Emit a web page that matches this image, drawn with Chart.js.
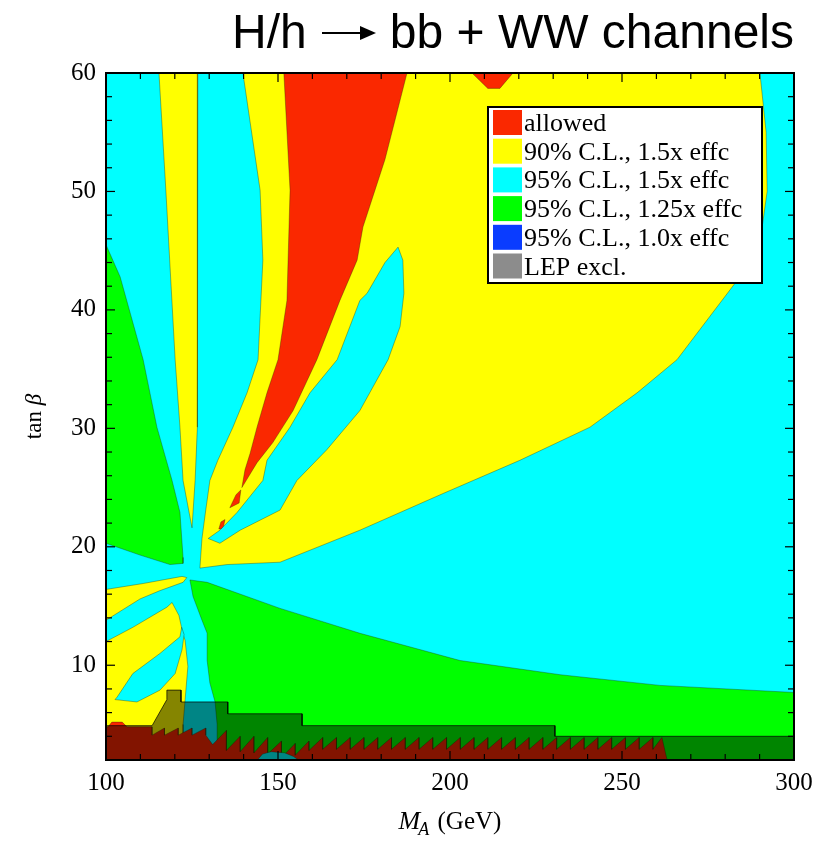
<!DOCTYPE html>
<html>
<head>
<meta charset="utf-8">
<script src="https://cdn.jsdelivr.net/npm/chart.js@4.4.1/dist/chart.umd.min.js"></script>
<style>
body { margin: 0; background: #fff; }
canvas { display: block; }
</style>
</head>
<body>
<canvas id="chart" width="822" height="859"></canvas>
<script>
// axis ticks
const xTicks = [100, 150, 200, 250, 300]
const xMinor = [110, 120, 130, 140, 160, 170, 180, 190, 210, 220, 230, 240, 260, 270, 280, 290]
const yTicks = [10, 20, 30, 40, 50, 60]
const yMinor = [4, 6, 8, 12, 14, 16, 18, 22, 24, 26, 28, 32, 34, 36, 38, 42, 44, 46, 48, 52, 54, 56, 58]

// legend
const legendLabels = ['allowed', '90% C.L., 1.5x effc', '95% C.L., 1.5x effc', '95% C.L., 1.25x effc', '95% C.L., 1.0x effc', 'LEP excl.']
const legendColors = ['#fa2800', '#ffff00', '#00ffff', '#00ff00', '#0a3cff', '#8c8c8c']

// contour outlines, [M_A, tan beta]
const base = [[100, 2], [300, 2], [300, 60], [100, 60]]
const yellowMain = [[139.8, 60], [290.1, 60], [291.9, 55], [292.2, 50], [290.5, 46.5], [284.3, 42.8], [266.0, 35.8], [254.4, 33.0], [240.7, 30.1], [220.3, 27.3], [198.0, 24.5], [173.8, 21.4], [150.6, 18.7], [135.2, 18.5], [127.3, 18.2], [127.9, 20.7], [129.0, 23.1], [130.2, 25.6], [132.5, 27.3], [136.9, 30.1], [141.0, 33.0], [144.2, 35.8], [145.6, 44.2], [144.8, 50.1]]
const redMain = [[151.7, 60], [187.5, 60], [181.1, 52.7], [174.7, 47.0], [173.0, 44.2], [168.0, 40.8], [161.3, 35.8], [154.4, 31.5], [148.5, 28.8], [143.9, 27.1], [139.5, 25.0], [140.4, 26.5], [141.9, 27.9], [143.9, 30.1], [146.8, 33.0], [150.0, 35.8], [152.6, 40.8], [153.5, 50.1]]
const redTop = [[206.4, 60], [218.3, 60], [214.5, 58.7], [211.0, 58.7]]
const redBits1 = [[136.0, 23.3], [137.8, 24.4], [139.2, 24.8], [138.7, 23.7]]
const redBits2 = [[132.8, 21.5], [133.4, 22.1], [134.6, 22.3], [134.0, 21.5]]
const cyanFinger = [[184.9, 45.3], [186.3, 44.2], [186.6, 41.4], [185.5, 38.6], [182.0, 35.8], [173.8, 31.5], [164.2, 28.2], [155.5, 25.6], [150.6, 23.1], [139.0, 21.4], [133.1, 20.3], [129.7, 20.7], [133.1, 21.4], [138.1, 22.9], [145.6, 25.6], [146.8, 27.3], [153.5, 30.1], [159.3, 33.0], [167.2, 35.8], [173.8, 40.8], [175.9, 41.4], [181.1, 44.0]]
const greenLeft = [[100, 45.5], [104.1, 42.8], [110.8, 35.8], [114.8, 30.1], [119.2, 25.6], [121.5, 22.9], [122.4, 19.1], [122.4, 18.6], [118.6, 18.5], [109.9, 19.3], [100, 20.3]]
const yellowCol = [[115.4, 60], [126.7, 60], [126.5, 50.1], [126.7, 35.8], [126.5, 30.1], [125.9, 25.6], [125.0, 21.6], [122.4, 25.6], [121.5, 30.1], [120.1, 35.8], [117.4, 50.1]]
const yellowWedge = [[100, 16.4], [110.8, 16.9], [122.1, 17.5], [123.5, 17.4], [122.4, 17.0], [115.7, 16.3], [109.9, 15.6], [100, 13.8]]
const yellowLow = [[100, 12.0], [107.8, 13.2], [117.7, 14.9], [119.2, 15.3], [121.2, 14.2], [122.4, 12.6], [123.0, 12.1], [123.8, 9.9], [123.0, 7.1], [122.4, 5.0], [122.4, 2], [100, 2]]
const cyanTongue = [[122.0, 13.2], [121.5, 12.4], [115.7, 11.0], [107.8, 9.3], [103.2, 7.3], [102.6, 7.1], [109.0, 6.9], [115.7, 7.9], [120.1, 9.3], [122.1, 11.3], [122.7, 12.6]]
const greenLow = [[124.4, 17.2], [129.4, 17.0], [150.6, 14.8], [173.8, 12.7], [202.9, 10.4], [232.0, 9.2], [261.0, 8.3], [300, 7.7], [300, 2], [132.3, 2], [132.3, 5.0], [131.7, 6.9], [130.2, 8.5], [129.4, 10.4], [129.4, 12.7], [127.9, 13.8], [125.3, 15.8]]
const redBottom = [[100, 2], [100, 4.8], [100.6, 4.8], [101.7, 5.2], [104.7, 5.2], [106.1, 4.8], [113.4, 4.8], [113.4, 4.1],
  [117, 4.7], [117, 4.1], [121, 4.7], [121, 4.1], [125, 4.7], [125, 4.1], [129, 4.7], [129, 4.1],
  [131, 3.3], [135, 4.5], [135, 2.8], [139, 4.0], [139, 2.7], [143, 4.0], [143, 2.6], [147, 3.9], [147, 2.5],
  [151, 3.6], [151, 2.2], [155, 3.4], [155, 2.4], [159, 3.6], [159, 2.8],
  [163, 3.9], [163, 2.9], [167, 3.9], [167, 2.9], [171, 3.9], [171, 2.9], [175, 3.9], [175, 2.9],
  [179, 3.9], [179, 2.9], [183, 3.9], [183, 2.9], [187, 3.9], [187, 2.9], [191, 3.9], [191, 2.9],
  [195, 3.9], [195, 2.9], [199, 3.9], [199, 2.9], [203, 3.9], [203, 2.9], [207, 3.9], [207, 2.9],
  [211, 3.9], [211, 2.9], [215, 3.9], [215, 2.9], [219, 3.9], [219, 2.9], [223, 3.9], [223, 2.9],
  [227, 3.9], [227, 2.9], [231, 3.9], [231, 2.9], [235, 3.9], [235, 2.9], [239, 3.9], [239, 2.9],
  [243, 3.9], [243, 2.9], [247, 3.9], [247, 2.9], [251, 3.9], [251, 2.9], [255, 3.9], [255, 2.9],
  [259, 3.9], [259, 2.9], [261.6, 3.9], [263.1, 2.0]]
const cyanBottom = [[144.0, 2], [145.5, 2.5], [148.0, 2.7], [152.0, 2.6], [154.5, 2.3], [156.0, 2]]
const lepExcl = [[100, 2], [100, 4.9], [113.4, 4.9], [117.7, 7.1], [117.7, 7.9], [121.8, 7.9], [121.8, 6.9], [135.4, 6.9], [135.4, 5.9], [157.0, 5.9], [157.0, 4.9], [230.5, 4.9], [230.5, 4.0], [300, 4.0], [300, 2]]

const RED = '#fa2800', YELLOW = '#ffff00', CYAN = '#00ffff', GREEN = '#00ff00'
const EDGE = 'rgba(40,40,0,0.35)'

// bottom to top
const layers = [
  [base, CYAN, 0],
  [yellowMain, YELLOW], [redMain, RED], [redTop, RED], [redBits1, RED], [redBits2, RED],
  [cyanFinger, CYAN], [greenLeft, GREEN], [yellowCol, YELLOW], [yellowWedge, YELLOW],
  [yellowLow, YELLOW], [cyanTongue, CYAN], [greenLow, GREEN], [redBottom, RED], [cyanBottom, CYAN],
  [lepExcl, 'rgba(0,0,0,0.48)']
]

const datasets = layers.map(([pts, color, bw], i) => ({
  data: pts.concat([pts[0]]).map(([x, y]) => ({x, y})),
  polyFill: color,
  borderColor: i == layers.length - 1 ? 'rgba(0,0,0,0.7)' : EDGE,
  borderWidth: bw === 0 ? 0 : 1,
  pointRadius: 0,
  tension: 0,
  fill: false,
  order: -i
}))

// fill each outline through its own points
const polyFill = {
  id: 'polyFill',
  beforeDatasetDraw(chart, args) {
    const ds = chart.data.datasets[args.index]
    const pts = args.meta.data
    const ctx = chart.ctx
    ctx.save()
    ctx.beginPath()
    pts.forEach((p, i) => i ? ctx.lineTo(p.x, p.y) : ctx.moveTo(p.x, p.y))
    ctx.closePath()
    ctx.fillStyle = ds.polyFill
    ctx.fill()
    ctx.restore()
  }
}

const decor = {
  id: 'decor',
  afterDraw(chart) {
    const {ctx, chartArea: a, scales: {x, y}} = chart
    ctx.save()
    ctx.strokeStyle = '#000'
    ctx.lineWidth = 1.2
    const line = (x1, y1, x2, y2) => { ctx.beginPath(); ctx.moveTo(x1, y1); ctx.lineTo(x2, y2); ctx.stroke() }
    xTicks.concat(xMinor).forEach(v => {
      const p = x.getPixelForValue(v), L = xTicks.includes(v) ? 9 : 6
      line(p, a.bottom, p, a.bottom - L)
      line(p, a.top, p, a.top + L)
    })
    yTicks.concat(yMinor).forEach(v => {
      const p = y.getPixelForValue(v), L = yTicks.includes(v) ? 9 : 6
      line(a.left, p, a.left + L, p)
      line(a.right, p, a.right - L, p)
    })
    ctx.lineWidth = 2
    ctx.strokeRect(a.left, a.top, a.right - a.left, a.bottom - a.top)

    // legend box
    const lx = 488, ly = 107, lw = 274, lh = 176
    ctx.fillStyle = '#fff'
    ctx.fillRect(lx, ly, lw, lh)
    ctx.strokeRect(lx, ly, lw, lh)
    ctx.font = '26px "Liberation Serif"'
    ctx.textBaseline = 'alphabetic'
    ctx.textAlign = 'left'
    legendLabels.forEach((t, i) => {
      const ry = ly + 3 + i * 28.7
      ctx.fillStyle = legendColors[i]
      ctx.fillRect(lx + 5, ry, 29, 25)
      ctx.fillStyle = '#000'
      ctx.fillText(t, lx + 36, ry + 21)
    })

    // title
    ctx.fillStyle = '#000'
    ctx.font = '48px "Liberation Sans"'
    ctx.textAlign = 'left'
    ctx.fillText('H/h', 232, 48)
    ctx.textAlign = 'right'
    ctx.fillText('bb + WW channels', 794, 48)
    ctx.lineWidth = 2
    line(322, 33, 362, 33)
    ctx.beginPath()
    ctx.moveTo(360, 26); ctx.lineTo(376, 33); ctx.lineTo(360, 40); ctx.closePath(); ctx.fill()

    // y title
    ctx.save()
    ctx.translate(33, (a.top + a.bottom) / 2)
    ctx.rotate(-Math.PI / 2)
    ctx.font = '23px "Liberation Serif"'
    const w1 = ctx.measureText('tan ').width
    ctx.font = 'italic 23px "Liberation Serif"'
    const w2 = ctx.measureText('\u03b2').width
    ctx.textAlign = 'left'
    ctx.font = '23px "Liberation Serif"'
    ctx.fillText('tan ', -(w1 + w2) / 2, 8)
    ctx.font = 'italic 23px "Liberation Serif"'
    ctx.fillText('\u03b2', -(w1 + w2) / 2 + w1, 8)
    ctx.restore()

    // x title
    ctx.textAlign = 'left'
    ctx.font = 'italic 26px "Liberation Serif"'
    const mw = ctx.measureText('M').width
    ctx.font = 'italic 18px "Liberation Serif"'
    const aw = ctx.measureText('A').width
    ctx.font = '25px "Liberation Serif"'
    const gw = ctx.measureText(' (GeV)').width
    let sx = (a.left + a.right) / 2 - (mw + aw + gw) / 2
    ctx.font = 'italic 26px "Liberation Serif"'
    ctx.fillText('M', sx, 829)
    ctx.font = 'italic 18px "Liberation Serif"'
    ctx.fillText('A', sx + mw - 2, 835)
    ctx.font = '25px "Liberation Serif"'
    ctx.fillText(' (GeV)', sx + mw + aw, 829)
    ctx.restore()
  }
}

const tickFont = {family: 'Liberation Serif', size: 25}

new Chart(document.getElementById('chart'), {
  type: 'line',
  data: {datasets},
  options: {
    responsive: false,
    animation: false,
    devicePixelRatio: 1,
    layout: {padding: {top: 73, right: 28, left: 0, bottom: 0}},
    plugins: {legend: {display: false}, tooltip: {enabled: false}},
    scales: {
      x: {
        type: 'linear', min: 100, max: 300,
        afterBuildTicks: s => { s.ticks = xTicks.map(v => ({value: v})) },
        afterFit: s => { s.height = 99 },
        ticks: {font: tickFont, color: '#000', padding: 8, maxRotation: 0, autoSkip: false},
        grid: {display: false, drawTicks: false},
        border: {display: false}
      },
      y: {
        type: 'linear', min: 2, max: 60,
        afterBuildTicks: s => { s.ticks = yTicks.map(v => ({value: v})) },
        afterFit: s => { s.width = 106 },
        ticks: {font: tickFont, color: '#000', padding: 10, autoSkip: false},
        grid: {display: false, drawTicks: false},
        border: {display: false}
      }
    }
  },
  plugins: [polyFill, decor]
})
</script>
</body>
</html>
